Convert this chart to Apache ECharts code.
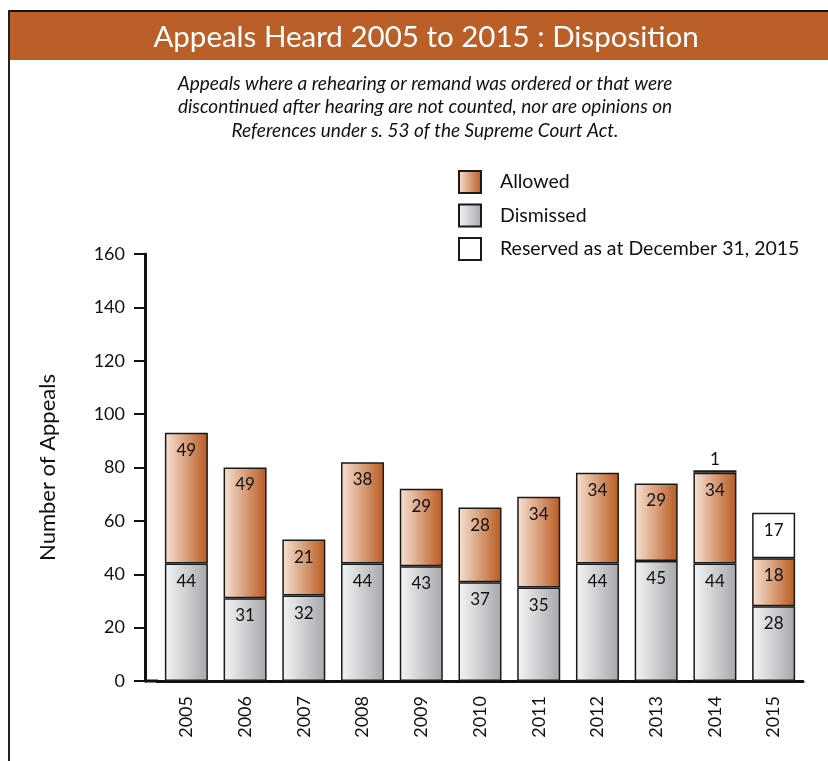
<!DOCTYPE html>
<html>
<head>
<meta charset="utf-8">
<script src="https://cdn.jsdelivr.net/npm/echarts@6/dist/echarts.min.js"></script>
<style>
  html, body { margin: 0; padding: 0; background: #fff; }
  #chart { width: 828px; height: 761px; }
</style>
</head>
<body>
<div id="chart"></div>
<script>
var years = ['2005', '2006', '2007', '2008', '2009', '2010', '2011', '2012', '2013', '2014', '2015'];
var dismissed = [44, 31, 32, 44, 43, 37, 35, 44, 45, 44, 28];
var allowed = [49, 49, 21, 38, 29, 28, 34, 34, 29, 34, 18];
var reserved = ['-', '-', '-', '-', '-', '-', '-', '-', '-', 1, 17];

var titleText = 'Appeals Heard 2005 to 2015 : Disposition';
var noteText = 'Appeals where a rehearing or remand was ordered or that were\n' +
    'discontinued after hearing are not counted, nor are opinions on\n' +
    'References under s. 53 of the Supreme Court Act.';

var font = 'Lato';

var chartDom = document.getElementById('chart');
var myChart = echarts.init(chartDom);
var option;

function hGrad(c0, c1) {
    return new echarts.graphic.LinearGradient(0, 0, 1, 0, [
        { offset: 0, color: c0 },
        { offset: 1, color: c1 }
    ]);
}

var segLabel = {
    show: true,
    position: 'insideTop',
    distance: 9,
    color: '#111',
    fontSize: 17,
    fontFamily: font
};

// label for the tiny 2014 reserved segment sits above the bar
var reservedData = reserved.map(function (v) {
    if (v === 1) {
        return { value: v, label: { position: 'top', distance: 2 } };
    }
    return v;
});

option = {
    animation: false,
    backgroundColor: '#fff',
    textStyle: { fontFamily: font },
    graphic: [
        {
            type: 'rect',
            shape: { x: 8, y: 10, width: 830, height: 50 },
            style: { fill: '#b95f27' },
            z: 0
        },
        {
            type: 'line',
            shape: { x1: 8, y1: 11, x2: 828, y2: 11 },
            style: { stroke: '#111', lineWidth: 2 }
        },
        {
            type: 'line',
            shape: { x1: 9, y1: 10, x2: 9, y2: 761 },
            style: { stroke: '#222', lineWidth: 2 }
        },
        {
            type: 'text',
            x: 426, y: 37,
            style: {
                text: titleText,
                fill: '#fff',
                font: '29.5px ' + font,
                align: 'center',
                verticalAlign: 'middle'
            }
        },
        {
            type: 'text',
            x: 425, y: 107,
            style: {
                text: noteText,
                fill: '#111',
                font: 'italic 19px ' + font,
                lineHeight: 23.5,
                align: 'center',
                verticalAlign: 'middle'
            }
        },
        {
            // joins the y-axis line to the category axis line
            type: 'line',
            shape: { x1: 145, y1: 681, x2: 158, y2: 681 },
            style: { stroke: '#111', lineWidth: 3 }
        }
    ],
    legend: {
        data: ['Allowed', 'Dismissed', 'Reserved as at December 31, 2015'],
        orient: 'vertical',
        left: 453,
        top: 165,
        icon: 'rect',
        itemWidth: 22,
        itemHeight: 22,
        itemGap: 9.5,
        textStyle: {
            fontSize: 19.5,
            lineHeight: 22,
            color: '#111',
            fontFamily: font,
            padding: [0, 0, 0, 14]
        }
    },
    grid: {
        left: 157,
        right: 25,
        top: 254,
        bottom: 80
    },
    xAxis: {
        type: 'category',
        data: years,
        axisLine: { lineStyle: { color: '#111', width: 3 } },
        axisTick: { show: false },
        axisLabel: {
            rotate: 90,
            margin: 15,
            fontSize: 18,
            color: '#111',
            fontFamily: font
        }
    },
    yAxis: {
        type: 'value',
        min: 0,
        max: 160,
        interval: 20,
        offset: 12,
        name: 'Number of Appeals',
        nameLocation: 'middle',
        nameRotate: 90,
        nameGap: 86,
        nameTextStyle: { fontSize: 22, color: '#111', fontFamily: font },
        axisLine: { show: true, lineStyle: { color: '#111', width: 3 } },
        axisTick: { show: true, length: 11, lineStyle: { color: '#111', width: 2 } },
        axisLabel: { fontSize: 18, color: '#111', margin: 20, fontFamily: font },
        splitLine: { show: false }
    },
    series: [
        {
            name: 'Dismissed',
            type: 'bar',
            stack: 'total',
            barWidth: 43,
            data: dismissed,
            itemStyle: {
                color: hGrad('#f4f5f6', '#a6a7ab'),
                borderColor: '#1a1a1a',
                borderWidth: 1.5
            },
            label: segLabel
        },
        {
            name: 'Allowed',
            type: 'bar',
            stack: 'total',
            barWidth: 43,
            data: allowed,
            itemStyle: {
                color: hGrad('#f7e2d3', '#b85a20'),
                borderColor: '#1a1a1a',
                borderWidth: 1.5
            },
            label: segLabel
        },
        {
            name: 'Reserved as at December 31, 2015',
            type: 'bar',
            stack: 'total',
            barWidth: 43,
            data: reservedData,
            itemStyle: {
                color: '#ffffff',
                borderColor: '#1a1a1a',
                borderWidth: 1.5
            },
            label: segLabel
        }
    ]
};

option && myChart.setOption(option);
</script>
</body>
</html>
